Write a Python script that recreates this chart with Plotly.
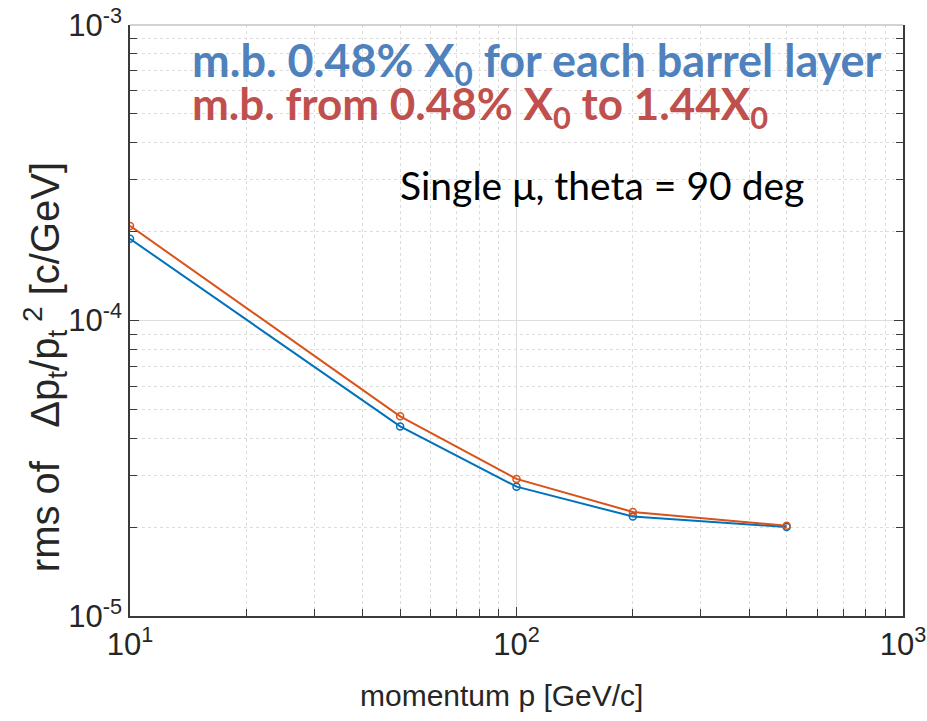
import plotly.graph_objects as go

momentum = [10, 50, 100, 200, 500]
rms_048 = [1.89e-4, 4.38e-5, 2.74e-5, 2.17e-5, 2.00e-5]
rms_048_144 = [2.09e-4, 4.74e-5, 2.91e-5, 2.25e-5, 2.02e-5]

x_tickvals = [10, 100, 1000]
x_ticktext = ["10<sup>1</sup>", "10<sup>2</sup>", "10<sup>3</sup>"]
y_tickvals = [1e-5, 1e-4, 1e-3]
y_ticktext = ["10<sup>-5</sup>", "10<sup>-4</sup>", "10<sup>-3</sup>"]
x_minor = [20, 30, 40, 50, 60, 70, 80, 90, 200, 300, 400, 500, 600, 700, 800, 900]
y_minor = [2e-5, 3e-5, 4e-5, 5e-5, 6e-5, 7e-5, 8e-5, 9e-5,
           2e-4, 3e-4, 4e-4, 5e-4, 6e-4, 7e-4, 8e-4, 9e-4]

NARROW = "Liberation Sans Narrow, Arial Narrow, Liberation Sans, Arial, sans-serif"
CAL = "Lato, Open Sans, sans-serif"

fig = go.Figure()
fig.add_trace(go.Scatter(x=momentum, y=rms_048, mode="lines+markers",
                         line=dict(color="#0072BD", width=2),
                         marker=dict(symbol="circle-open", size=7, color="#0072BD", line=dict(width=1.5)),
                         showlegend=False))
fig.add_trace(go.Scatter(x=momentum, y=rms_048_144, mode="lines+markers",
                         line=dict(color="#D95319", width=2),
                         marker=dict(symbol="circle-open", size=7, color="#D95319", line=dict(width=1.5)),
                         showlegend=False))

axis_common = dict(
    showline=True, linecolor="#3a3a3a", linewidth=1.5,
    ticks="inside", ticklen=9, tickcolor="#3a3a3a", tickwidth=1,
    showgrid=True, gridcolor="#dedede", gridwidth=1,
    zeroline=False, automargin=False,
    tickfont=dict(family=NARROW, size=31, color="#262626"),
)

fig.update_xaxes(type="log", range=[1, 3], tickvals=x_tickvals, ticktext=x_ticktext,
                 mirror=False,
                 minor=dict(tickvals=x_minor, ticks="inside", ticklen=7, tickcolor="#3a3a3a",
                            showgrid=True, gridcolor="#dcdcdc", griddash="dot", gridwidth=1),
                 **axis_common)
fig.update_yaxes(type="log", range=[-5, -3], tickvals=y_tickvals, ticktext=y_ticktext,
                 mirror="allticks",
                 minor=dict(tickvals=y_minor, ticks="inside", ticklen=7, tickcolor="#3a3a3a",
                            showgrid=True, gridcolor="#dcdcdc", griddash="dot", gridwidth=1),
                 **axis_common)

fig.add_shape(type="line", xref="paper", yref="paper", x0=0, x1=1, y0=1, y1=1,
              line=dict(color="#c4c4c4", width=1.5), layer="above")

# axis titles as annotations for precise placement
fig.add_annotation(xref="paper", yref="paper", x=0.481, y=-0.134, xanchor="center", yanchor="middle",
                   text="momentum p [GeV/c]", showarrow=False,
                   font=dict(family=NARROW, size=30, color="#262626"))
fig.add_annotation(xref="paper", yref="paper", x=-0.11, y=0.421, xanchor="center", yanchor="middle",
                   textangle=-90,
                   text="rms of   \u0394p<sub>t</sub>/p<sub>t</sub><sup> 2</sup> [c/GeV]", showarrow=False,
                   font=dict(family=NARROW, size=40, color="#262626"))

fig.add_annotation(xref="paper", yref="paper", x=0.078, y=0.935, xanchor="left", yanchor="middle",
                   text="<b>m.b. 0.48% X<sub>0</sub> for each barrel layer</b>", showarrow=False,
                   font=dict(family=CAL, size=45, color="#4F81BD"))
fig.add_annotation(xref="paper", yref="paper", x=0.078, y=0.862, xanchor="left", yanchor="middle",
                   text="<b>m.b. from 0.48% X<sub>0</sub> to 1.44X<sub>0</sub></b>", showarrow=False,
                   font=dict(family=CAL, size=44, color="#C0504D"))
fig.add_annotation(xref="paper", yref="paper", x=0.347, y=0.729, xanchor="left", yanchor="middle",
                   text="Single \u03bc, theta = 90 deg", showarrow=False,
                   font=dict(family=CAL, size=39, color="#000000"))

fig.update_layout(width=927, height=721, margin=dict(l=130, r=24, t=25, b=105),
                  paper_bgcolor="white", plot_bgcolor="white")

fig.write_html("out.html")
